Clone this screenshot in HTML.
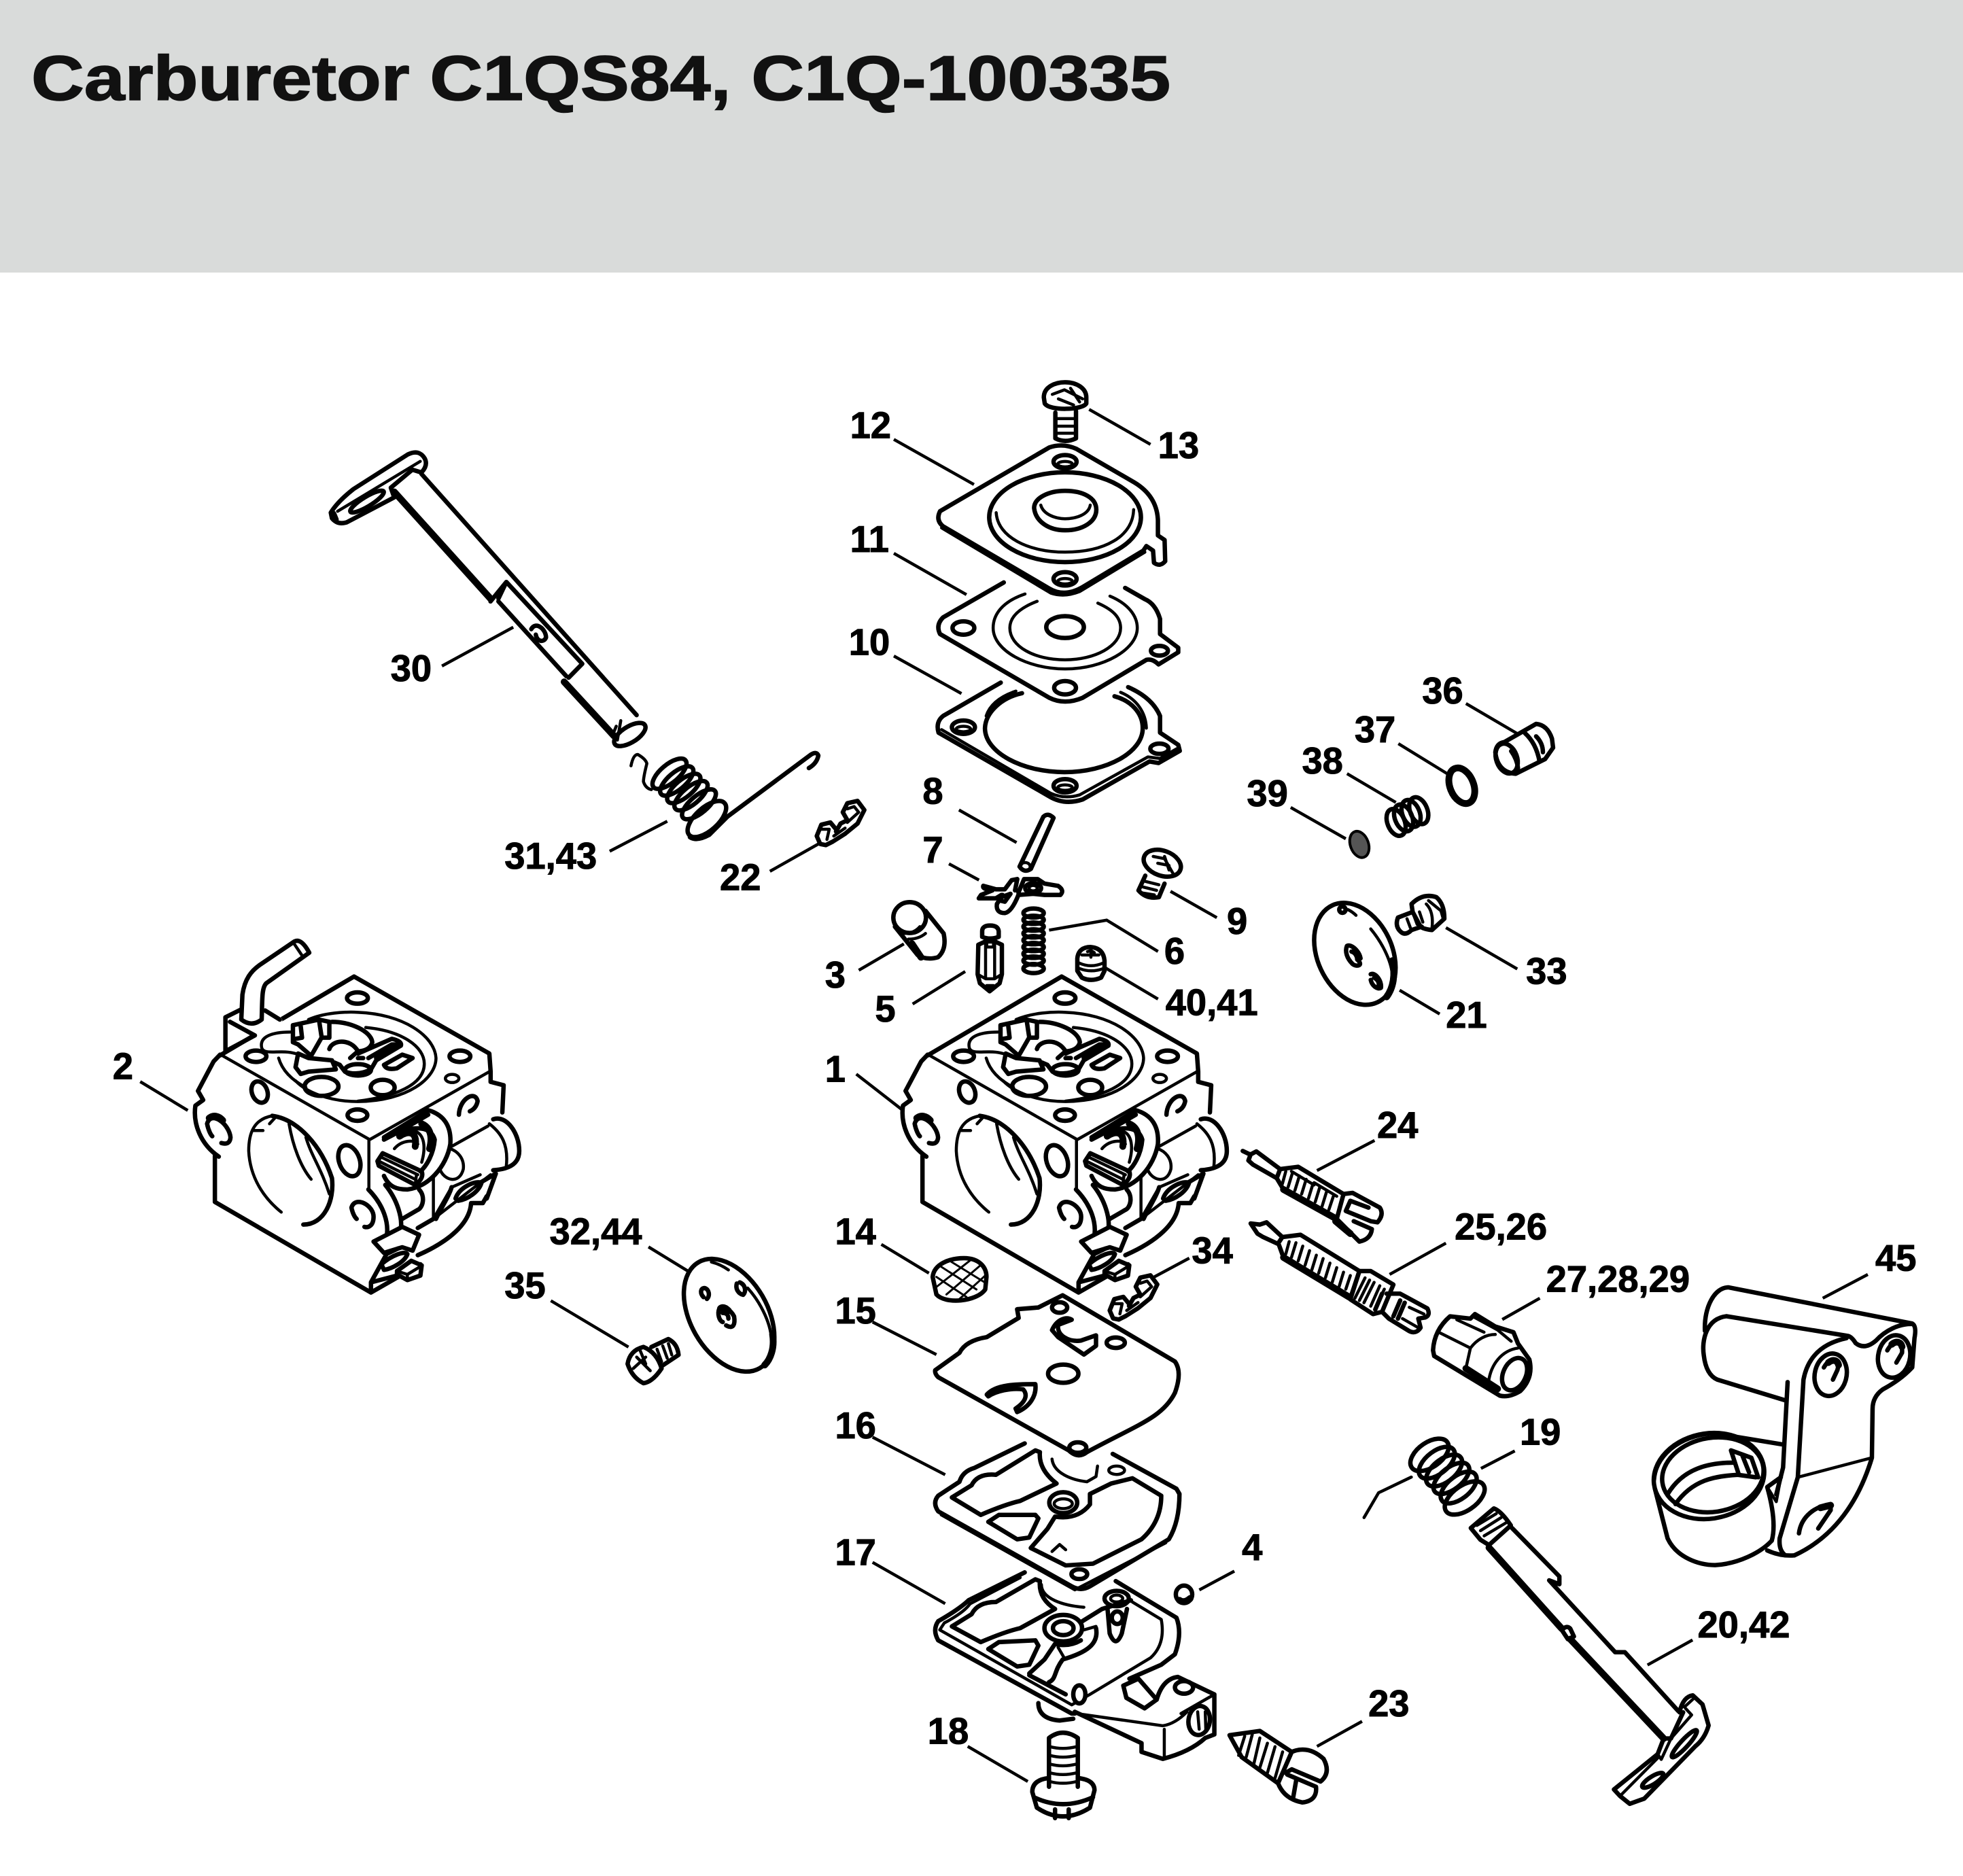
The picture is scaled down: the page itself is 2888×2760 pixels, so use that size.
<!DOCTYPE html>
<html><head><meta charset="utf-8"><title>Carburetor C1QS84, C1Q-100335</title>
<style>
html,body{margin:0;padding:0;background:#fff}
svg{display:block}
svg *{vector-effect:non-scaling-stroke}
.p{fill:none;stroke:#000;stroke-width:4.5;stroke-linecap:round;stroke-linejoin:round}
.t{stroke-width:3}
.b{stroke-width:6.5}
.h{stroke-width:10}
.w{fill:#fff}
.k{fill:#000}
.l text{font-family:"Liberation Sans",sans-serif;font-weight:bold;font-size:29.5px;fill:#000;stroke:#000;stroke-width:1}
.l path{fill:none;stroke:#000;stroke-width:4.5}
</style></head><body>
<svg xmlns="http://www.w3.org/2000/svg" width="2888" height="2760" viewBox="0 0 2888 2760">
<rect width="2888" height="2760" fill="#fff"/>
<rect width="2888" height="401" fill="#d9dbda"/>
<text x="46" y="147" font-family="'Liberation Sans',sans-serif" font-weight="bold" font-size="93" textLength="1676" lengthAdjust="spacingAndGlyphs" fill="#111" stroke="#111" stroke-width="1.5">Carburetor C1QS84, C1Q-100335</text>

<!-- Z1 : screw 13, parts 12 11 10 -->
<g class="p" transform="translate(1200,540) scale(.4464,.4464)">
<path class="b" d="M752,100C752,65 790,50 822,50C860,50 892,70 892,100L892,120C880,142 770,145 755,120Z"/>
<path d="M780,90L820,75L880,105M840,70L870,115M800,105L850,125"/>
<path class="b" d="M790,150L790,235Q822,252 858,235L858,145"/>
<path d="M797,170H850M797,195H850M797,218H850"/>
<path class="b" d="M770,265Q815,250 860,270L1050,380Q1125,425 1128,505L1128,555L1150,570L1152,640Q1135,660 1115,645L1112,605L1090,590L1080,605L880,725Q820,760 770,730L420,525Q395,505 410,475Z"/>
<path d="M415,530L775,745Q820,760 870,740L1085,610"/>
<ellipse class="b" cx="822" cy="495" rx="250" ry="148"/>
<path d="M595,480C600,560 700,610 822,610C950,610 1045,560 1048,470"/>
<path class="b" d="M720,465C720,430 770,408 822,408C880,408 925,430 925,470C925,510 880,538 822,538C770,538 725,510 720,465Z"/>
<path d="M742,455C750,485 790,500 822,500C860,500 900,485 905,455"/>
<ellipse class="b" cx="822" cy="312" rx="38" ry="22"/><ellipse cx="822" cy="320" rx="24" ry="9"/>
<ellipse class="b" cx="822" cy="698" rx="38" ry="22"/><ellipse cx="822" cy="706" rx="24" ry="9"/>
<path class="b" d="M620,710L420,825Q395,850 410,880L770,1090Q820,1115 880,1090L1090,965Q1110,960 1130,980L1195,940L1195,925L1135,880L1135,830Q1120,780 1085,765L1020,728"/>
<path d="M690,748C610,775 585,820 585,860C585,935 700,995 822,995C950,995 1060,930 1060,860C1060,820 1030,780 970,755"/>
<path d="M730,772C670,795 640,825 640,860C640,920 720,965 822,965C920,965 1005,920 1005,860C1005,825 980,800 930,778"/>
<ellipse class="b" cx="822" cy="857" rx="62" ry="36"/>
<ellipse class="b" cx="487" cy="860" rx="36" ry="22"/>
<ellipse class="b" cx="822" cy="1057" rx="36" ry="22"/>
<ellipse class="b" cx="1133" cy="935" rx="28" ry="16"/>
<path class="b" d="M610,1040L420,1150Q395,1170 405,1205L770,1415Q820,1445 880,1425L1100,1300L1130,1305L1200,1265L1195,1245L1135,1205L1135,1150Q1110,1090 1030,1055"/>
<path d="M415,1195L775,1405Q820,1425 870,1410L1095,1285L1135,1290L1190,1258"/>
<path class="b" d="M680,1075C610,1090 560,1140 558,1190C558,1270 680,1335 820,1335C960,1335 1078,1270 1078,1190C1078,1140 1040,1100 985,1085"/>
<path d="M660,1068C610,1085 575,1110 562,1150M1005,1072C1060,1095 1088,1140 1090,1190"/>
<ellipse class="b" cx="487" cy="1187" rx="38" ry="22"/><ellipse cx="487" cy="1193" rx="24" ry="9"/>
<ellipse class="b" cx="822" cy="1380" rx="38" ry="22"/><ellipse cx="822" cy="1386" rx="24" ry="9"/>
<ellipse class="b" cx="1133" cy="1258" rx="30" ry="17"/>
</g>

<!-- Z5 : shaft 30 -->
<g class="p" transform="translate(460,640) scale(.3333,.408)">
<path class="b" d="M80,280Q110,240 180,195L420,70Q470,50 495,85Q510,110 480,135L440,125L345,190L360,225L150,315Q110,325 85,300Z"/>
<path d="M110,275L475,95"/>
<ellipse cx="240" cy="240" rx="82" ry="18" transform="rotate(-26 240 240)" class="b"/>
<path class="h" d="M90,285L100,305"/>
<path class="b" d="M480,140L1430,1010"/>
<path class="h" d="M360,205L785,590"/>
<path class="b" d="M785,600L855,530L1190,825L1130,875M820,600L1120,870M820,590L855,530"/>
<path class="h" d="M1110,890L1330,1085"/>
<path class="b" d="M965,700C985,670 1030,700 1030,730C1020,750 990,745 985,720"/>
<ellipse class="b" cx="1400" cy="1080" rx="75" ry="30" transform="rotate(-25 1400 1080)"/>
<path d="M1340,1050L1325,1080M1360,1030L1345,1100"/>
</g>

<!-- Z8 : 8 7 6 5 40 9 -->
<g class="p" transform="translate(1350,1100) scale(.3333,.3333)">
<path class="b" d="M450,525L555,305Q575,285 600,310L500,535Q470,555 450,525Z"/>
<ellipse cx="475" cy="525" rx="22" ry="18"/>
<path class="b" d="M290,610L345,625L385,625L415,585L440,580L430,630M445,640L470,580L530,580L560,600L620,610Q650,630 630,650L560,650L510,645L445,650"/>
<ellipse class="b" cx="510" cy="620" rx="35" ry="22"/><ellipse cx="510" cy="620" rx="18" ry="12"/>
<path class="b" d="M290,610Q285,625 330,630L280,650L270,665L345,665L370,650M375,650L350,690Q345,730 385,730Q415,725 445,650M370,660L410,645L385,680L365,675"/>
<path class="b" d="M285,810Q285,785 320,785Q355,785 358,810L358,835Q320,850 285,835ZM268,870L300,855L340,855L372,870L372,1000L362,1040L318,1075L275,1040L265,1000Z"/>
<path d="M300,860V1015M340,860V1015M265,1000L300,1020H340L372,1000M305,855V880H335V855"/>
<path class="k" d="M305,1050L318,1070L335,1050Z"/>
<g class="b">
<ellipse cx="512" cy="730" rx="45" ry="20"/><ellipse cx="512" cy="760" rx="45" ry="18"/><ellipse cx="512" cy="790" rx="45" ry="18"/><ellipse cx="512" cy="820" rx="45" ry="18"/><ellipse cx="512" cy="850" rx="45" ry="18"/><ellipse cx="512" cy="880" rx="45" ry="18"/><ellipse cx="512" cy="910" rx="45" ry="18"/><ellipse cx="512" cy="940" rx="45" ry="18"/><ellipse cx="512" cy="975" rx="45" ry="20"/>
</g>
<path class="b" d="M705,930Q710,880 765,880Q820,885 825,940L825,985L810,1015Q765,1035 725,1015L705,985Z"/>
<path d="M750,900L765,895L780,905M765,895V925M725,915H800M712,950Q765,975 820,950M715,975Q765,995 820,975"/>
<ellipse class="b" cx="1080" cy="510" rx="85" ry="55" transform="rotate(20 1080 510)"/>
<path d="M1040,480L1090,490L1130,560M1090,480L1110,540M1060,510L1110,520"/>
<path class="b" d="M1005,565L975,630Q1010,670 1065,660L1090,600"/>
<path d="M1005,590L1065,605M995,615L1055,630M985,640L1045,650"/>
</g>

<!-- Z2 : carburetor body -->
<g id="body" class="p" transform="translate(1250,1400) scale(.3827,.3333)">
<path class="b" d="M300,458L815,110L1335,450L1340,530L1340,575L1390,590L1385,710"/>
<path class="b" d="M300,455L275,485L215,615L235,655L205,680C195,760 225,850 295,905M280,900V1105L880,1505L1070,1380"/>
<path d="M310,460L875,830L1335,530M872,830V1045"/>
<path class="b" d="M1350,740C1400,720 1450,800 1450,880C1450,930 1420,960 1350,965"/>
<path d="M1335,760C1380,800 1410,850 1400,950M1190,860L1330,770M1120,1180L1340,985M1120,1000V1180L1190,1040L1300,985"/>
<path d="M1145,960C1160,1010 1220,1030 1235,960C1240,910 1210,880 1185,870"/>
<ellipse cx="828" cy="205" rx="40" ry="25" class="b"/>
<ellipse cx="438" cy="462" rx="40" ry="25" class="b"/>
<ellipse cx="1222" cy="462" rx="40" ry="25" class="b"/>
<ellipse cx="828" cy="722" rx="38" ry="25" class="b"/>
<ellipse cx="1192" cy="560" rx="26" ry="18"/>
<ellipse cx="925" cy="600" rx="46" ry="34" class="b"/>
<path d="M640,300C700,270 780,265 830,268C1000,275 1125,370 1130,470C1130,560 1020,660 830,662C720,662 630,620 590,570"/>
<path d="M860,335C1000,350 1085,420 1085,495C1085,590 970,640 830,660"/>
<path d="M570,355C500,355 450,375 460,425C470,460 530,430 590,450M525,470C540,530 580,570 630,600"/>
<path class="b" d="M580,325L680,300L720,310L720,380L690,380L650,460L600,410L580,400ZM590,385L615,380L610,330M680,300L690,375"/>
<path class="b" d="M600,450L640,470L730,480L745,520L640,530L610,540L590,510ZM730,310C800,310 880,350 885,400C880,430 850,440 830,440M720,430C730,390 800,380 830,440L800,470"/>
<path class="b" d="M830,450L960,385Q1000,395 995,415L900,480L880,520Q830,550 780,530L760,500L740,490M870,470L960,410L985,410L900,470M830,470H850"/>
<ellipse cx="830" cy="522" rx="50" ry="25" class="b"/>
<path class="b" d="M930,500L1000,455L1040,470L980,515Q940,525 930,500Z"/>
<ellipse cx="690" cy="595" rx="65" ry="42" class="b"/>
<path d="M500,725C430,740 410,800 410,880C415,1000 470,1090 535,1150"/>
<path class="b" d="M500,725C600,740 690,860 730,1000C740,1100 700,1205 620,1205"/>
<path d="M565,760C580,860 610,950 650,1005M630,820C650,900 690,960 720,1070M430,790L465,790M490,760L510,735"/>
<path class="b" d="M250,760C265,700 335,760 340,820C338,850 320,850 305,845M250,760C255,790 265,810 270,815"/>
<path class="h" d="M258,735C275,720 295,725 310,745"/>
<ellipse cx="452" cy="620" rx="30" ry="48" transform="rotate(-15 452 620)" class="b"/>
<ellipse cx="797" cy="923" rx="40" ry="70" transform="rotate(-15 797 923)" class="b"/>
<path class="b" d="M805,1130C820,1075 890,1120 890,1170C890,1210 870,1220 855,1215M805,1130C810,1160 820,1175 825,1180"/>
<path class="b" d="M1218,720C1220,650 1280,610 1290,660C1285,690 1270,700 1260,705"/>
<path class="b" d="M930,820L1100,700C1160,720 1190,770 1185,850C1170,950 1100,1040 1020,1050C980,1050 950,1040 930,990"/>
<path class="b w" d="M905,925L925,890L1075,970Q1085,1000 1050,1030L910,945Z"/>
<path d="M915,905L1060,985M910,925L1050,1005M1055,985L1050,1030"/>
<path class="b" d="M930,830L980,800L1100,720M985,800C1050,770 1110,770 1125,830C1120,900 1090,950 1070,970"/>
<path class="h" d="M990,815C1020,790 1060,790 1050,860M1075,760C1115,780 1115,830 1105,870"/>
<path d="M970,870C1000,830 1050,830 1060,850M1040,790C1090,800 1090,870 1075,930"/>
<path class="b" d="M870,1050C930,1120 950,1200 940,1260M935,1030C985,1100 1000,1180 995,1220M1065,1050C1090,1080 1080,1130 1060,1140L1000,1180"/>
<path class="b w" d="M890,1280L1000,1215L1065,1250L1040,1320L1000,1305L930,1330Z"/>
<path class="b" d="M880,1500V1460L940,1335L985,1310M880,1460L980,1430"/>
<path class="b" d="M920,1380C960,1340 1010,1320 1020,1335C1010,1370 960,1400 930,1405Z"/>
<path class="b w" d="M980,1410L1035,1365L1075,1385L1070,1430L1020,1450L980,1425Z"/>
<path d="M980,1410L1020,1425V1450M1020,1425L1070,1390"/>
<path class="b" d="M1060,1340C1180,1280 1260,1200 1265,1110M1325,1080L1310,1110L1270,1110M1060,1220L1120,1180M1190,1040C1180,1080 1150,1130 1130,1180"/>
<path class="b" d="M1205,1090C1220,1040 1280,1010 1305,1020C1295,1060 1250,1095 1215,1100"/>
<path class="b" d="M1300,1020L1360,980L1325,1090"/>
</g>
<use href="#body" x="-1041"/>
<!-- tube and tab on body 2 -->
<g class="p" transform="translate(270,1360) scale(.3333)">
<path stroke="#fff" style="stroke:#fff;stroke-width:12" d="M322,484L418,424"/>
<path class="b" d="M360,380L425,420M255,375L185,410V560M205,430L315,490L185,560"/>
<path class="b w" d="M255,420L260,310C270,240 300,205 335,180L490,75Q520,60 555,125L365,260C345,280 348,330 345,420Q300,455 255,420Z"/>
<path d="M490,88L525,140"/>
</g>

<!-- Z6 : 24 25 27 -->
<g class="p" transform="translate(1800,1620) scale(.3333,.3333)">
<path class="b" d="M85,220L110,232L120,235L110,262L130,280L235,340L250,300L145,222L120,235M235,340L265,390L500,520L530,410L330,290L250,300"/>
<path class="h" d="M265,390L490,515"/>
<path d="M275,310L260,365M305,315L285,380M335,330L315,395M365,345L345,410M395,365L375,430M425,380L405,445M455,400L435,465M485,420L465,480M300,310L400,370M400,360L500,420"/>
<path class="b" d="M530,410L570,405L690,470Q710,500 680,535L650,530L540,485L560,440L640,470M500,520L600,620Q650,610 655,565L575,530"/>
<path class="h" d="M495,530L560,585"/>
<path class="b" d="M120,540L160,545L190,535L260,600L240,630L175,600L150,585ZM260,600L340,590L600,750L560,870L265,690L245,635"/>
<path class="h" d="M265,690L555,865"/>
<path d="M290,620L275,675M320,625L300,690M350,640L330,705M380,660L360,725M410,680L390,745M440,695L420,760M470,715L450,780M500,735L480,800M530,755L510,820M560,770L540,830"/>
<path class="b" d="M600,750L650,750L750,810L700,930L660,940L560,875Z"/>
<path d="M625,780L580,870M645,790L600,880M665,800L620,890M690,815L650,905M710,830L670,915"/>
<path class="b" d="M720,850L780,850L900,915Q915,945 890,955L860,960L870,1000Q850,1030 820,1015L730,960L700,930M700,850L670,920M780,880L750,950M800,890L770,960"/>
<path d="M820,910L885,940M790,960L860,1000"/>
<path class="b" d="M925,1100Q930,1010 1000,950L1090,960L1110,940L1200,995L1280,1020L1300,1070L1350,1140Q1370,1220 1310,1280Q1260,1310 1220,1300L930,1125Z"/>
<path d="M950,1020L1090,1090L1070,1180M1030,965L1150,1020M1100,950L1210,1010L1270,1060M1090,1090C1120,1050 1160,1030 1200,1030M1170,1240C1180,1160 1230,1100 1300,1090"/>
<ellipse class="b" cx="1285" cy="1205" rx="50" ry="75" transform="rotate(25 1285 1205)"/>
<path class="h" d="M1070,1180L1210,1270"/>
</g>

<!-- Z3 : 15 16 17 4 18 23 -->
<g class="p" transform="translate(1300,1880) scale(.4464,.5128)">
<path class="b" d="M170,265L250,215Q270,180 340,170L445,115L440,90L510,85L590,50L960,240Q985,270 960,330C920,400 840,420 670,500Q640,520 610,495L180,285Q168,275 170,265Z"/>
<path class="b" d="M555,150C570,120 600,110 620,120L575,135C570,165 610,185 650,180L700,165L700,195L660,220L575,170Z"/>
<ellipse class="b" cx="765" cy="186" rx="30" ry="15"/>
<ellipse class="b" cx="592" cy="275" rx="50" ry="26"/>
<ellipse class="b" cx="580" cy="85" rx="25" ry="15"/>
<ellipse class="b" cx="640" cy="487" rx="28" ry="15"/>
<path class="b" d="M340,335C370,305 440,305 500,305C505,340 480,370 440,385L435,375C470,355 475,335 460,320C420,315 370,325 345,340Z"/>

<path class="b" d="M465,475L300,545Q260,555 250,585L180,625Q160,645 180,670L620,885Q650,900 680,885L940,750Q975,700 975,620L965,605L755,505"/>
<path d="M190,680L630,895L930,760"/>
<path class="b" d="M225,630L290,595Q310,560 370,565L500,495L515,500Q510,550 570,590L450,640Q400,650 320,680Z"/>
<path class="b" d="M345,700L380,680L500,680L510,690L480,745L440,750Z"/>
<ellipse class="b" cx="592" cy="645" rx="46" ry="30"/><ellipse cx="592" cy="648" rx="30" ry="14"/>
<path class="b" d="M680,620L750,590L820,575L915,625Q915,700 850,750L690,820L600,825L485,775L540,720L565,685Q640,695 680,650Z"/>
<path d="M555,520C560,560 620,580 670,585L700,570L705,540M555,785L580,765L600,780"/>
<ellipse cx="768" cy="552" rx="26" ry="12"/>
<ellipse cx="645" cy="850" rx="26" ry="14" class="b"/>
<path class="b" d="M465,845L280,925Q250,950 180,985Q160,1010 180,1040L620,1250L630,1250M765,870L965,975Q985,1020 960,1080L915,1110L810,1150"/>
<path d="M450,860L285,935Q265,960 200,990L185,1010L620,1225L680,1195L880,1090Q930,1050 915,980L820,930"/>
<path class="b" d="M225,1000L290,965Q310,930 370,930L500,865L515,870Q510,920 565,950L450,1005Q400,1015 320,1045Z"/>
<path class="b" d="M345,1065L380,1045L500,1040L510,1055L480,1110L440,1115Z"/>
<ellipse class="b" cx="592" cy="1005" rx="62" ry="38"/><ellipse class="b" cx="592" cy="1005" rx="34" ry="20"/>
<path class="b" d="M655,985L720,950L815,925M700,1005C710,1050 670,1075 590,1095C560,1130 570,1150 545,1160M480,1135L530,1095L565,1050Q610,1060 650,1040M480,1140L600,1195"/>
<path d="M520,880C520,920 590,940 660,945M575,1060L595,1090M700,1000L660,1010"/>
<ellipse class="b" cx="768" cy="920" rx="40" ry="22"/><ellipse cx="768" cy="920" rx="20" ry="10"/>
<path class="b" d="M738,950L745,1020Q765,1065 785,1020L802,950"/>
<ellipse cx="770" cy="975" rx="18" ry="18" class="b"/>
<ellipse class="b w" cx="645" cy="1195" rx="20" ry="26"/>
<path class="b w" d="M790,1170L840,1150L900,1210L860,1235L800,1205Z"/>
<path class="b" d="M900,1210Q920,1150 970,1145L1090,1195V1310L1060,1320Q1010,1360 920,1380L850,1360L850,1335L630,1245"/>
<path d="M925,1295V1375M635,1250L920,1285Q960,1280 1000,1245M980,1250L1090,1195"/>
<ellipse cx="990" cy="1175" rx="30" ry="18" class="b"/>
<ellipse cx="1040" cy="1270" rx="35" ry="42" transform="rotate(15 1040 1270)" class="b"/>
<path d="M1035,1245L1040,1295M1060,1245L1062,1300"/>
<path class="b" d="M510,1220Q510,1265 580,1270L625,1265"/>

<ellipse class="b" cx="990" cy="908" rx="27" ry="25"/><path class="h" d="M975,925Q990,935 1010,920"/>

<path class="b" d="M545,1320Q590,1290 640,1320V1460M545,1320V1460"/>
<path d="M548,1345Q590,1355 636,1345M548,1370Q590,1380 636,1370M548,1395Q590,1405 636,1395M548,1420Q590,1430 636,1420M548,1445Q590,1455 636,1445"/>
<path class="b" d="M545,1435Q490,1440 490,1475L505,1520Q590,1570 680,1520L695,1470Q695,1440 640,1435M495,1490Q590,1530 690,1490M565,1525V1550M610,1525V1550"/>

<path class="b" d="M1140,1312L1240,1300L1345,1360L1300,1450L1180,1375Z"/>
<path d="M1190,1315L1170,1370M1215,1310L1195,1375M1240,1320L1220,1395M1265,1335L1240,1405M1290,1345L1265,1420M1315,1360L1290,1435"/>
<path class="b" d="M1345,1360Q1400,1340 1450,1380Q1475,1420 1440,1445L1345,1410L1325,1420M1330,1425L1425,1460Q1430,1500 1380,1505Q1320,1495 1300,1450M1360,1440L1350,1490"/>
</g>

<!-- Z7 : 19 20 -->
<g class="p" transform="translate(1980,2100) scale(.357,.3846)">
<g class="b">
<ellipse cx="345" cy="105" rx="88" ry="48" transform="rotate(-32 345 105)"/>
<ellipse cx="375" cy="135" rx="85" ry="44" transform="rotate(-35 375 135)"/>
<ellipse cx="405" cy="165" rx="85" ry="44" transform="rotate(-35 405 165)"/>
<ellipse cx="435" cy="195" rx="85" ry="42" transform="rotate(-35 435 195)"/>
<ellipse cx="465" cy="230" rx="85" ry="44" transform="rotate(-35 465 230)"/>
<ellipse cx="490" cy="270" rx="92" ry="48" transform="rotate(-32 490 270)"/>
</g>
<path d="M270,190L135,250L75,345"/>
<path class="b" d="M515,385L610,310Q640,320 680,375L590,450L555,430Z"/>
<path d="M540,375L620,330M555,395L640,345M570,415L660,365"/>
<path class="b" d="M685,385L880,570L880,600L838,585L1110,860L1150,860L1370,1085"/>
<path class="h" d="M590,460L890,770M925,810L1310,1190"/>
<path class="b" d="M890,775Q910,755 925,770L940,800L915,810Z"/>
<path class="b" d="M1375,1090Q1390,1030 1430,1025L1470,1060L1495,1140Q1480,1190 1440,1220L1230,1420L1170,1440L1130,1410L1105,1385L1285,1250L1310,1190L1340,1190L1390,1090"/>
<path d="M1395,1070L1430,1040M1400,1075L1425,1100L1340,1190L1300,1270L1285,1250M1130,1410L1285,1265"/>
<ellipse class="b" cx="1395" cy="1210" rx="72" ry="15" transform="rotate(-45 1395 1210)"/>
<ellipse class="b" cx="1265" cy="1350" rx="50" ry="15" transform="rotate(-30 1265 1350)"/>
</g>

<!-- Z4 : 45 -->
<g class="p" transform="translate(2350,1800) scale(.3333,.359)">
<path class="b" d="M475,440C470,340 520,260 580,262L1390,410Q1410,420 1400,470L1390,590Q1340,640 1260,680Q1215,710 1215,760L1212,960C1170,1090 1080,1270 870,1360Q810,1365 750,1340"/>
<path class="b" d="M1390,412C1330,410 1270,440 1230,480Q1180,520 1140,490Q1120,460 1100,460L570,380C480,390 460,480 470,540Q480,620 530,640L830,725"/>
<path class="b" d="M840,650L820,1000L790,1110"/>
<path class="b" d="M1100,470C1000,490 930,540 910,640L885,1040L805,1290Q800,1340 830,1360"/>
<path d="M885,1040L1212,960"/>
<path class="b" d="M250,1050C260,930 400,860 520,860L815,905"/>
<ellipse class="b" cx="493" cy="1035" rx="245" ry="175" transform="rotate(-8 493 1035)"/>
<ellipse cx="510" cy="1030" rx="225" ry="152" transform="rotate(-8 510 1030)" class="b"/>
<path class="b" d="M255,1090L310,1290C350,1370 450,1400 520,1400C620,1395 720,1350 770,1300C785,1250 780,1180 750,1080L810,1040"/>
<path class="b" d="M310,1110C380,1000 500,980 600,980M345,1150C420,1050 520,1035 620,1030L700,1040"/>
<path class="b" d="M590,930L625,1030M590,930L680,960L710,1040M640,950L670,1020"/>
<path d="M750,1080L790,1140L810,1040"/>
<ellipse class="b" cx="1030" cy="620" rx="70" ry="88" transform="rotate(15 1030 620)"/>
<path class="b" d="M1000,590C1030,540 1075,550 1060,600L1040,640"/>
<path class="h" d="M1020,570C1040,555 1060,560 1065,580"/>
<ellipse class="b" cx="1310" cy="545" rx="70" ry="88" transform="rotate(15 1310 545)"/>
<path class="b" d="M1280,520C1310,470 1350,480 1345,530L1320,570"/>
<path class="h" d="M1300,495C1320,480 1340,485 1345,505"/>
<path class="b" d="M890,1270C900,1200 960,1160 1030,1150L1030,1175L975,1250"/>
<path class="h" d="M985,1165L1030,1155"/>
</g>

<!-- spring 31,43, clips 22/34, plug 3 -->
<g class="p" transform="translate(900,1080) scale(.3333)">
<path d="M85,140Q95,90 115,90Q150,110 155,130Q140,190 140,210Q150,240 175,245"/>
<g class="b">
<ellipse cx="255" cy="175" rx="92" ry="40" transform="rotate(-40 255 175)"/>
<ellipse cx="287" cy="207" rx="90" ry="38" transform="rotate(-40 287 207)"/>
<ellipse cx="318" cy="240" rx="90" ry="38" transform="rotate(-40 318 240)"/>
<ellipse cx="350" cy="272" rx="90" ry="38" transform="rotate(-40 350 272)"/>
<ellipse cx="385" cy="310" rx="92" ry="38" transform="rotate(-40 385 310)"/>
<ellipse cx="420" cy="375" rx="105" ry="50" transform="rotate(-42 420 375)"/>
</g>
<path class="b" d="M345,455Q375,475 430,445L510,365L880,90Q905,75 912,95Q905,130 870,150"/>
<g id="clip">
<path class="b" d="M990,430L1010,395L1040,380L1020,345L1040,305L1085,295L1115,335L1085,395L1030,440L975,475L945,490L920,485L905,450L925,400L965,390L990,420"/>
<path d="M925,420L960,420L950,465M1040,330L1070,320L1090,345L1040,390M980,450L1030,415"/>
</g>
<path class="b w" d="M1250,850L1350,975Q1390,1000 1440,985Q1480,950 1465,880L1385,780"/>
<ellipse class="b" cx="1315" cy="810" rx="72" ry="68"/>
<path d="M1290,880Q1335,880 1360,850M1310,905Q1355,905 1385,880"/>
<path class="h" d="M1325,925L1365,985"/>
</g>
<use href="#clip" x="431" y="698" transform="translate(900,1080) scale(.3333) translate(0,0)" style="display:none"/>
<g class="p" transform="translate(1331,1778) scale(.3333)">
<path class="b" d="M990,430L1010,395L1040,380L1020,345L1040,305L1085,295L1115,335L1085,395L1030,440L975,475L945,490L920,485L905,450L925,400L965,390L990,420"/>
<path d="M925,420L960,420L950,465M1040,330L1070,320L1090,345L1040,390M980,450L1030,415"/>
</g>

<!-- 36 37 38 39 21 33 -->
<g class="p" transform="translate(1800,1030) scale(.3333)">
<path class="b" d="M1200,230Q1205,190 1240,185L1380,105Q1430,110 1450,170L1455,210L1420,260L1290,325Q1210,320 1200,230Z"/>
<ellipse class="b" cx="1250" cy="258" rx="46" ry="68" transform="rotate(-20 1250 258)"/>
<path class="b" d="M1330,145Q1380,190 1395,270M1380,160Q1410,190 1410,230M1270,225Q1295,260 1300,300"/>
<ellipse style="stroke-width:10" cx="1052" cy="378" rx="52" ry="82" transform="rotate(-22 1052 378)"/>
<g class="b">
<ellipse cx="762" cy="540" rx="38" ry="62" transform="rotate(-22 762 540)"/>
<ellipse cx="795" cy="520" rx="38" ry="62" transform="rotate(-22 795 520)"/>
<ellipse cx="828" cy="500" rx="38" ry="62" transform="rotate(-22 828 500)"/>
<ellipse cx="862" cy="488" rx="38" ry="62" transform="rotate(-22 862 488)"/>
</g>
<ellipse cx="600" cy="637" rx="40" ry="60" transform="rotate(-20 600 637)" style="fill:#555;stroke-width:4"/>
<ellipse class="b" cx="580" cy="1120" rx="165" ry="236" transform="rotate(-25 580 1120)"/>
<path d="M650,1010C700,1070 740,1150 745,1210M550,925Q570,935 585,950"/>
<path class="h" d="M745,1150C760,1210 750,1270 720,1310"/>
<circle cx="525" cy="925" r="14" class="b"/>
<path class="b" d="M590,1145C620,1170 590,1180 570,1165C545,1140 535,1110 545,1085C565,1075 600,1110 605,1140M565,1110Q585,1115 590,1140"/>
<path class="b" d="M650,1210C670,1200 700,1240 695,1270C680,1280 655,1260 650,1235M665,1225Q690,1240 685,1260"/>
<path class="b" d="M835,935L770,960Q755,1000 785,1025Q805,1040 830,1015L875,1000"/>
<path class="b" d="M830,900Q880,850 940,870Q975,900 975,965L920,1015Q880,1010 870,1000L835,935Z"/>
<path d="M810,965L825,1005M840,950L855,990M865,935L880,980M895,900Q930,935 920,1010M905,885L960,930L970,965"/>
</g>

<!-- 32,44 35 -->
<g class="p" transform="translate(880,1800) scale(.3333)">
<ellipse class="b" cx="578" cy="405" rx="170" ry="270" transform="rotate(-30 578 405)"/>
<path d="M660,285C710,340 760,430 765,510M500,170Q540,180 575,205"/>
<path class="h" d="M770,490C780,550 760,600 735,625"/>
<path class="b" d="M565,450C600,470 605,440 600,410C585,380 555,365 535,375C525,400 535,430 550,435M550,395Q575,395 575,420"/>
<path class="h" d="M540,375Q555,365 575,385"/>
<path class="b" d="M480,333C495,320 490,290 470,285C450,285 450,310 465,325"/>
<path class="b" d="M625,260C650,270 655,300 640,315C620,310 605,290 612,265"/>
<path class="b" d="M130,620Q140,560 200,545Q260,570 280,640Q240,700 200,705Q150,680 130,620Z"/>
<path class="b" d="M235,545L310,510Q350,530 355,580L280,630"/>
<path d="M260,555L280,610M285,540L305,595M310,530L325,580M170,590L230,650M155,640L210,590M185,560L210,620"/>
</g>

<!-- 14 mesh -->
<g class="p" transform="scale(1.8418)">
<path class="b" d="M745,1020C746,1010 758,1005 770,1005C782,1005 788,1012 788,1020L787,1030C780,1040 755,1042 748,1034Z"/>
<path class="t" d="M752,1012L780,1030M760,1008L786,1024M748,1020L772,1036M784,1010L756,1034M776,1006L748,1028M788,1018L766,1038"/>
</g>

<g class="l" transform="scale(1.8418)">
<path d="M714,351L778,387M870,327L919,355M714,442L772,475M714,524L768,554M353,532L410,501M1171,562L1212,586M1117,594L1156,618M1076,618L1115,641M1031,645L1075,670M766,647L812,673M758,690L782,703M487,680L533,656M615,696L654,674M935,712L972,733M838,743L884,735L925,760M686,775L722,754M729,802L771,776M881,772L925,798M1155,741L1212,774M1118,791L1150,810M684,858L720,886M112,864L150,887M1052,935L1098,911M1110,1018L1155,993M704,994L742,1017M922,1020L950,1005M518,996L549,1015M1200,1054L1230,1037M1456,1037L1492,1018M440,1039L502,1076M697,1056L748,1082M697,1148L755,1178M1183,1173L1210,1159M697,1248L755,1281M958,1270L986,1255M1316,1330L1352,1310M1052,1395L1088,1375M773,1395L821,1423"/>
<text x="679" y="350">12</text><text x="925" y="366">13</text><text x="679" y="441">11</text><text x="678" y="523">10</text>
<text x="312" y="544">30</text><text x="1136" y="562">36</text><text x="1082" y="593">37</text><text x="1040" y="618">38</text>
<text x="996" y="644">39</text><text x="737" y="642">8</text><text x="737" y="689">7</text><text x="403" y="694">31,43</text>
<text x="575" y="711">22</text><text x="980" y="746">9</text><text x="930" y="770">6</text><text x="659" y="789">3</text>
<text x="699" y="816">5</text><text x="931" y="811">40,41</text><text x="1219" y="786">33</text><text x="1155" y="821">21</text>
<text x="659" y="864">1</text><text x="90" y="862">2</text><text x="1100" y="909">24</text><text x="1162" y="990">25,26</text>
<text x="667" y="994">14</text><text x="952" y="1009">34</text><text x="439" y="994">32,44</text><text x="1235" y="1032">27,28,29</text>
<text x="1498" y="1015">45</text><text x="403" y="1037">35</text><text x="667" y="1057">15</text><text x="667" y="1149">16</text>
<text x="1214" y="1154">19</text><text x="667" y="1250">17</text><text x="992" y="1246">4</text><text x="1356" y="1308">20,42</text>
<text x="1093" y="1371">23</text><text x="741" y="1393">18</text>
</g>
</svg>
</body></html>
